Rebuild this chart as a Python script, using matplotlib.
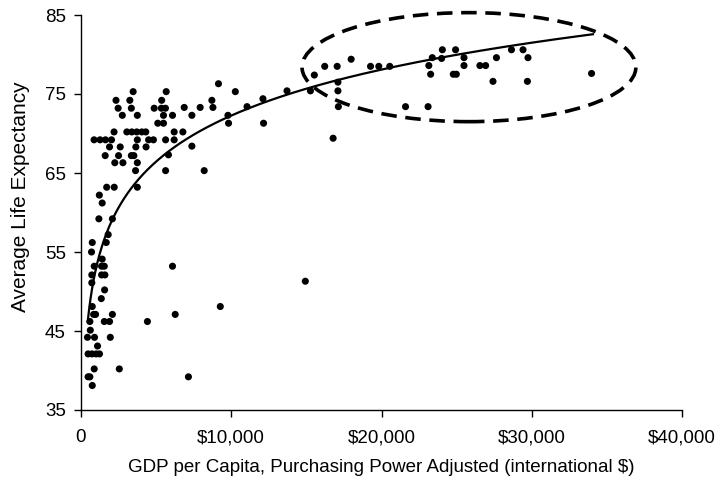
import numpy as np
import matplotlib
matplotlib.use("Agg")
import matplotlib.pyplot as plt
from matplotlib.patches import Ellipse
from matplotlib.ticker import FuncFormatter

plt.rcParams['font.family'] = ['Liberation Sans', 'DejaVu Sans']

# GDP per capita (international $) and life expectancy
gdp = [3470, 5670, 9150, 10270,
       2330, 3250, 5370, 8710,
       2470, 3350, 4870, 5350, 5620, 6870, 7930, 8780, 11050,
       2750, 3750, 5490, 6090, 7380, 9780,
       5110, 5490, 9820, 12150,
       2200, 3050, 3380, 3710, 4050, 4310, 6200, 6780,
       870, 1270, 1630, 2030, 3750, 4500, 4820, 5630, 6200, 16780,
       1900, 2610, 3650, 4330, 7380,
       1610, 2500, 3350, 3520, 5820,
       2250, 2790, 3750,
       3630, 5630, 8200,
       1710, 2210, 3750,
       1220, 1410, 1190, 2090, 1810, 750, 1680, 700, 1410,
       880, 1370, 1550, 6090,
       720, 1370, 1590,
       14930, 720, 1570, 1350,
       750, 9270,
       840, 970, 2090, 6270,
       590, 1550, 1900, 4420,
       620, 430, 900, 1950, 1100,
       470, 730, 1010, 1230,
       880, 2550, 470, 590, 7150, 750,
       12110, 13710, 15270, 15530, 16220, 17050, 17980, 19270, 19820, 20550,
       17100, 17100, 17130, 21600, 23100, 23150, 23270, 23380, 24050, 24930,
       24000, 24780, 24980, 25490, 25490, 26550, 26930, 27650, 27420, 28650,
       29420, 29750, 29710, 33980]

life = [75.3, 75.3, 76.3, 75.3,
        74.2, 74.2, 74.2, 74.2,
        73.2, 73.2, 73.2, 73.2, 73.2, 73.3, 73.3, 73.3, 73.4,
        72.3, 72.3, 72.3, 72.3, 72.3, 72.3,
        71.3, 71.3, 71.3, 71.3,
        70.2, 70.2, 70.2, 70.2, 70.2, 70.2, 70.2, 70.2,
        69.2, 69.2, 69.2, 69.2, 69.2, 69.2, 69.2, 69.2, 69.2, 69.4,
        68.3, 68.3, 68.3, 68.3, 68.4,
        67.2, 67.2, 67.2, 67.2, 67.3,
        66.3, 66.3, 66.3,
        65.3, 65.3, 65.3,
        63.2, 63.2, 63.2,
        62.2, 61.2, 59.2, 59.2, 57.2, 56.2, 56.2, 55.0, 54.1,
        53.2, 53.2, 53.2, 53.2,
        52.1, 52.1, 52.1,
        51.3, 51.1, 50.2, 49.1,
        48.1, 48.1,
        47.1, 47.1, 47.1, 47.1,
        46.2, 46.2, 46.2, 46.2,
        45.1, 44.2, 44.2, 44.2, 43.1,
        42.1, 42.1, 42.1, 42.1,
        40.2, 40.2, 39.2, 39.2, 39.2, 38.1,
        74.4, 75.4, 75.4, 77.4, 78.5, 78.5, 79.4, 78.5, 78.5, 78.5,
        76.5, 75.4, 73.4, 73.4, 73.4, 78.6, 77.5, 79.6, 80.6, 80.6,
        79.5, 77.5, 77.5, 79.6, 78.6, 78.6, 78.6, 79.6, 76.6, 80.6,
        80.6, 79.6, 76.6, 77.6]

# logarithmic trend line: life = a + b*ln(gdp)
trend_a = -5.1
trend_b = 8.4
trend_range = [450, 34070]

# highlighted group (ellipse) in data units
ellipse_center = [25820, 78.4]
ellipse_size = [22220, 13.8]

x_ticks = [0, 10000, 20000, 30000, 40000]
y_ticks = [35, 45, 55, 65, 75, 85]

fig = plt.figure(figsize=(7.21, 4.87), dpi=100)
ax = fig.add_axes([81/721, 1 - 410/487, (682-81)/721, (410-15)/487])

ax.scatter(gdp, life, s=26, color='black', edgecolors='none', zorder=3)

xt = np.geomspace(trend_range[0], trend_range[1], 300)
ax.plot(xt, trend_a + trend_b*np.log(xt), color='black', lw=1.6, zorder=2)

ell = Ellipse(ellipse_center, ellipse_size[0], ellipse_size[1], fill=False,
              edgecolor='black', lw=2.6, linestyle=(0, (4.3, 2.4)), clip_on=False)
ax.add_patch(ell)

ax.set_xlim(0, 40000)
ax.set_ylim(35, 85)
ax.set_xticks(x_ticks)
ax.set_yticks(y_ticks)
ax.xaxis.set_major_formatter(FuncFormatter(lambda v, p: '0' if v == 0 else '${:,.0f}'.format(v)))
ax.spines['top'].set_visible(False)
ax.spines['right'].set_visible(False)
ax.spines['left'].set_linewidth(1.0)
ax.spines['bottom'].set_linewidth(1.0)
ax.tick_params(axis='x', direction='out', length=5, width=1, labelsize=13.5, pad=9)
ax.tick_params(axis='y', direction='out', length=5, width=1, labelsize=13.5, pad=6)
ax.set_xlabel('GDP per Capita, Purchasing Power Adjusted (international $)', fontsize=13.5)
ax.xaxis.set_label_coords(0.5, -(467 - 410) / 395, transform=ax.transAxes)
ax.xaxis.label.set_va('center')
ax.set_ylabel('Average Life Expectancy', fontsize=15)
ax.yaxis.set_label_coords(-(81 - 20) / 601, (410 - 197) / 395, transform=ax.transAxes)
ax.yaxis.label.set_va('center')

fig.savefig('out.png', dpi=100)
